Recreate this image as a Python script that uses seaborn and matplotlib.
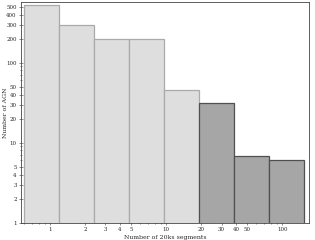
import numpy as np
import pandas as pd
import matplotlib
matplotlib.use("Agg")
import matplotlib.pyplot as plt
import matplotlib.ticker as mticker
import seaborn as sns

# Data
bin_edges = [0.6, 1.2, 2.4, 4.8, 9.6, 19.2, 38.4, 76.8, 153.6]
counts = [525, 299, 198, 195, 46, 31, 6.9, 6.0]
group = ["light", "light", "light", "light", "light", "dark", "dark", "dark"]
x_ticks = [1, 2, 3, 4, 5, 10, 20, 30, 40, 50, 100]
y_ticks = [1, 2, 3, 4, 5, 10, 20, 30, 40, 50, 100, 200, 300, 400, 500]

centers = [np.sqrt(bin_edges[i] * bin_edges[i + 1]) for i in range(len(counts))]
df = pd.DataFrame({"x": centers, "w": counts, "g": group})

sns.set_style("ticks")
plt.rcParams["font.family"] = ["DejaVu Serif"]

fig = plt.figure(figsize=(3.15, 2.4), dpi=100)
ax = fig.add_axes([0.066, 0.072, 0.915, 0.92])

styles = {"light": ("#dedede", "#aaaaaa"), "dark": ("#a6a6a6", "#505050")}
for g, (fc, ec) in styles.items():
    sub = df[df["g"] == g]
    sns.histplot(data=sub, x="x", weights="w", bins=bin_edges, ax=ax,
                 color=fc, edgecolor=ec, linewidth=0.9, alpha=1, stat="count")

ax.set_xscale("log")
ax.set_yscale("log")
ax.set_xlim(0.56, 170)
ax.set_ylim(1, 575)

ax.xaxis.set_major_locator(mticker.FixedLocator(x_ticks))
ax.xaxis.set_major_formatter(mticker.FixedFormatter([str(t) for t in x_ticks]))
ax.yaxis.set_major_locator(mticker.FixedLocator(y_ticks))
ax.yaxis.set_major_formatter(mticker.FixedFormatter([str(t) for t in y_ticks]))
ax.xaxis.set_minor_locator(mticker.LogLocator(base=10, subs=np.arange(1, 10) * 0.1 + 0.0, numticks=50))
ax.yaxis.set_minor_locator(mticker.LogLocator(base=10, subs=np.arange(1, 10), numticks=50))
ax.xaxis.set_minor_formatter(mticker.NullFormatter())
ax.yaxis.set_minor_formatter(mticker.NullFormatter())

ax.tick_params(which="both", labelsize=4, direction="inout", width=0.4, color="#333333", pad=1.5)
ax.tick_params(which="major", length=3)
ax.tick_params(which="minor", length=1.5)

ax.set_xlabel("Number of 20ks segments", fontsize=4.5, labelpad=2)
ax.set_ylabel("Number of AGN", fontsize=4.5, labelpad=0.5)
ax.yaxis.set_label_coords(-0.045, 0.5)
for s in ax.spines.values():
    s.set_visible(True)
    s.set_linewidth(0.6)
    s.set_color("#444444")

fig.savefig("out.png", dpi=100)
